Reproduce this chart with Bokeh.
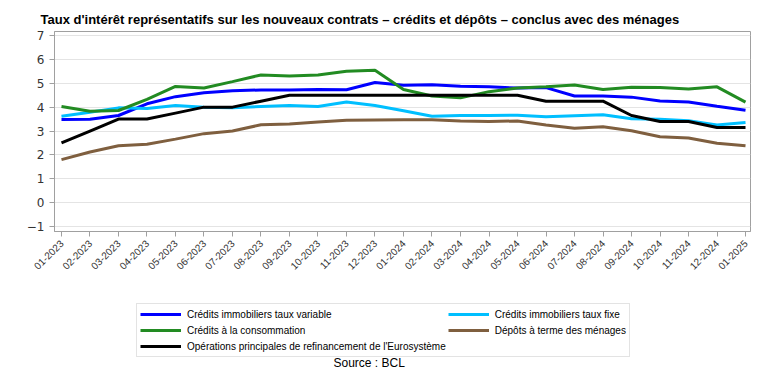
import math
from bokeh.plotting import figure
from bokeh.layouts import column
from bokeh.models import Range1d, FixedTicker, Legend, LegendItem, Label
from bokeh.embed import file_html
from bokeh.resources import INLINE

months = ["01-2023", "02-2023", "03-2023", "04-2023", "05-2023", "06-2023", "07-2023",
          "08-2023", "09-2023", "10-2023", "11-2023", "12-2023", "01-2024", "02-2024",
          "03-2024", "04-2024", "05-2024", "06-2024", "07-2024", "08-2024", "09-2024",
          "10-2024", "11-2024", "12-2024", "01-2025"]

taux_variable = [3.48, 3.49, 3.65, 4.14, 4.44, 4.60, 4.69, 4.72, 4.72, 4.74, 4.73, 5.03, 4.92,
                 4.94, 4.88, 4.85, 4.80, 4.82, 4.47, 4.47, 4.42, 4.26, 4.22, 4.04, 3.87]
taux_fixe = [3.62, 3.79, 3.97, 3.94, 4.07, 4.00, 3.97, 4.03, 4.07, 4.03, 4.22, 4.07, 3.85,
             3.62, 3.65, 3.65, 3.66, 3.60, 3.64, 3.68, 3.51, 3.49, 3.43, 3.25, 3.36]
consommation = [4.03, 3.83, 3.86, 4.33, 4.87, 4.80, 5.07, 5.35, 5.31, 5.35, 5.50, 5.55, 4.74,
                4.47, 4.39, 4.65, 4.80, 4.85, 4.93, 4.74, 4.83, 4.82, 4.76, 4.85, 4.21]
depots = [1.80, 2.12, 2.38, 2.45, 2.66, 2.89, 3.00, 3.26, 3.29, 3.38, 3.45, 3.46, 3.47,
          3.47, 3.42, 3.40, 3.42, 3.25, 3.12, 3.18, 3.01, 2.76, 2.71, 2.49, 2.38]
refinancement = [2.50, 3.00, 3.50, 3.50, 3.75, 4.00, 4.00, 4.25, 4.50, 4.50, 4.50, 4.50, 4.50,
                 4.50, 4.50, 4.50, 4.50, 4.25, 4.25, 4.25, 3.65, 3.40, 3.40, 3.15, 3.15]

y_ticks = [-1, 0, 1, 2, 3, 4, 5, 6, 7]

# drawing order
series = [
    ("Crédits immobiliers taux variable", taux_variable, "#0000FF"),
    ("Crédits immobiliers taux fixe", taux_fixe, "#00BFFF"),
    ("Crédits à la consommation", consommation, "#228B22"),
    ("Dépôts à terme des ménages", depots, "#7F5F3F"),
    ("Opérations principales de refinancement de l'Eurosystème", refinancement, "#000000"),
]
# legend order (filled column by column: 3 rows x 2 columns)
legend_order = [0, 2, 4, 1, 3]

title_text = "Taux d'intérêt représentatifs sur les nouveaux contrats – crédits et dépôts – conclus avec des ménages"
source_text = "Source : BCL"

FONT = "Liberation Sans"
x = list(range(len(months)))

# ---------------- main chart ----------------
p = figure(width=752, height=292, output_backend="svg", toolbar_location=None,
           x_range=Range1d(-0.245, 24.175), y_range=Range1d(-1.21, 7.17),
           min_border_left=54, min_border_right=2, min_border_top=31,
           min_border_bottom=61)

p.outline_line_color = "#a0a0a0"
p.outline_line_width = 1
p.background_fill_color = "white"
p.border_fill_color = "white"

p.xgrid.grid_line_color = None
p.ygrid.grid_line_color = "#e4e4e4"
p.ygrid.grid_line_width = 1

p.xaxis.ticker = FixedTicker(ticks=x)
p.xaxis.major_label_overrides = {i: m for i, m in enumerate(months)}
p.xaxis.major_label_orientation = math.pi / 4
p.xaxis.major_label_text_font = FONT
p.xaxis.major_label_text_font_size = "10px"
p.xaxis.major_label_text_color = "#333333"
p.xaxis.axis_line_color = "#a0a0a0"
p.xaxis.major_tick_line_color = "#a0a0a0"
p.xaxis.major_tick_out = 5
p.xaxis.major_tick_in = 0
p.xaxis.minor_tick_line_color = None

p.yaxis.ticker = FixedTicker(ticks=y_ticks)
p.yaxis.major_label_text_font = "DejaVu Sans"
p.yaxis.major_label_text_font_size = "12px"
p.yaxis.major_label_text_color = "#333333"
p.yaxis.axis_line_color = "#a0a0a0"
p.yaxis.major_tick_line_color = "#a0a0a0"
p.yaxis.major_tick_out = 5
p.yaxis.major_tick_in = 0
p.yaxis.minor_tick_line_color = None

for name, vals, color in series:
    p.line(x, vals, line_color=color, line_width=3)

p.title.text = title_text
p.title.align = "left"
p.title.offset = -14
p.title.text_font = FONT
p.title.text_font_size = "13px"
p.title.text_font_style = "bold"
p.title.text_color = "#000000"

# ---------------- legend + source panel ----------------
q = figure(width=752, height=76, output_backend="svg", toolbar_location=None,
           x_range=Range1d(0, 1), y_range=Range1d(0, 1),
           x_axis_location=None, y_axis_location=None,
           min_border_left=0, min_border_right=0, min_border_top=0, min_border_bottom=0)
q.outline_line_color = None
q.grid.visible = False
q.background_fill_color = "white"
q.border_fill_color = "white"

legend_renderers = []
for name, vals, color in series:
    r = q.line(x, vals, line_color=color, line_width=3, visible=False)
    legend_renderers.append(r)

items = [LegendItem(label=series[i][0], renderers=[legend_renderers[i]]) for i in legend_order]

legend = Legend(items=items, ncols=2, location=(82, 11))
legend.label_text_font = FONT
legend.label_text_font_size = "10px"
legend.label_text_color = "#000000"
legend.glyph_width = 41
legend.glyph_height = 14
legend.label_height = 14
legend.label_standoff = 6
legend.spacing = 2
legend.padding = 3
legend.margin = 0
legend.border_line_color = "#c8c8c8"
legend.border_line_width = 1
legend.inactive_fill_alpha = 0
legend.click_policy = "none"
q.add_layout(legend, "center")

q.add_layout(Label(x=279, y=-1, x_units="screen", y_units="screen", text=source_text,
                   text_font=FONT, text_font_size="12px", text_color="#000000",
                   text_baseline="bottom", text_align="left"))

layout = column(p, q, spacing=0)
open("out.html", "w").write(file_html(layout, INLINE))
